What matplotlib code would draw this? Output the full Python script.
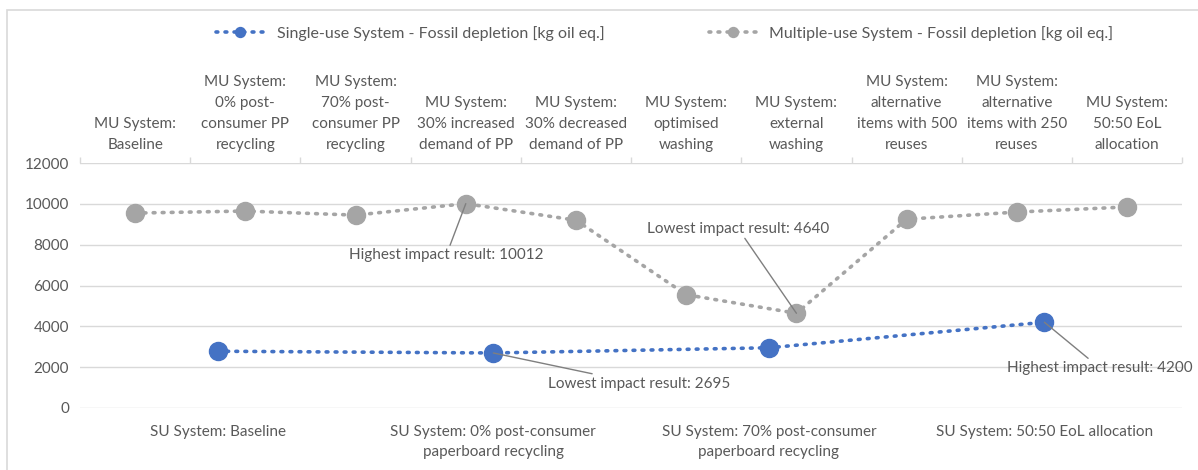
import matplotlib.pyplot as plt
from matplotlib.patches import Rectangle

plt.rcParams['font.family'] = ['Lato', 'DejaVu Sans']

# single-use system (bottom axis)
su_labels = ["SU System: Baseline",
             "SU System: 0% post-consumer\npaperboard recycling",
             "SU System: 70% post-consumer\npaperboard recycling",
             "SU System: 50:50 EoL allocation"]
su_vals = [2780, 2695, 2950, 4200]

# multiple-use system (top axis)
mu_labels = ["MU System:\nBaseline",
             "MU System:\n0% post-\nconsumer PP\nrecycling",
             "MU System:\n70% post-\nconsumer PP\nrecycling",
             "MU System:\n30% increased\ndemand of PP",
             "MU System:\n30% decreased\ndemand of PP",
             "MU System:\noptimised\nwashing",
             "MU System:\nexternal\nwashing",
             "MU System:\nalternative\nitems with 500\nreuses",
             "MU System:\nalternative\nitems with 250\nreuses",
             "MU System:\n50:50 EoL\nallocation"]
mu_vals = [9550, 9650, 9450, 10012, 9200, 5550, 4640, 9250, 9600, 9850]

blue = "#4472C4"
grey = "#A5A5A5"
txt = "#595959"
gridc = "#D9D9D9"

fig = plt.figure(figsize=(11.98, 4.70), dpi=100)
ax = fig.add_axes([0.0668, 0.132, 0.92, 0.521])
ax2 = ax.twiny()

ax.set_ylim(0, 12000)
ax.set_yticks(range(0, 12001, 2000))
ax.grid(axis='y', color=gridc, lw=1)
ax.set_axisbelow(True)
for a in (ax, ax2):
    for s in a.spines.values():
        s.set_visible(False)

ax.set_xlim(-0.5, len(su_vals) - 0.5)
ax.set_xticks(range(len(su_vals)))
ax.set_xticklabels(su_labels, color=txt, fontsize=11, linespacing=1.6)
ax.tick_params(axis='x', length=0, pad=12)
ax.tick_params(axis='y', length=0, labelcolor=txt, labelsize=11, pad=8)

ax2.set_xlim(-0.5, len(mu_vals) - 0.5)
ax2.set_xticks(range(len(mu_vals)))
ax2.set_xticklabels(mu_labels, color=txt, fontsize=11, linespacing=1.65)
ax2.set_xticks([i - 0.5 for i in range(len(mu_vals) + 1)], minor=True)
ax2.tick_params(axis='x', which='major', length=0, pad=8)
ax2.tick_params(axis='x', which='minor', length=4, color=gridc, width=1)

su_line, = ax.plot(range(len(su_vals)), su_vals, color=blue, lw=2.6,
                   ls=(0, (0.5, 2.0)), dash_capstyle='round', marker='o',
                   ms=13, label="Single-use System - Fossil depletion [kg oil eq.]", zorder=3)
mu_line, = ax2.plot(range(len(mu_vals)), mu_vals, color=grey, lw=2.6,
                    ls=(0, (0.5, 2.0)), dash_capstyle='round', marker='o',
                    ms=13, label="Multiple-use System - Fossil depletion [kg oil eq.]", zorder=3)

arr = dict(arrowstyle='-', color='#7F7F7F', lw=1, shrinkA=0, shrinkB=0)
ax2.annotate("Highest impact result: 10012", xy=(3, 10012), xytext=(-14, -37),
             textcoords='offset points', ha='center', va='center', color=txt,
             fontsize=11, arrowprops=arr)
ax2.annotate("Lowest impact result: 4640", xy=(6, 4640), xytext=(-42, 61),
             textcoords='offset points', ha='center', va='center', color=txt,
             fontsize=11, arrowprops=arr)
ax.annotate("Lowest impact result: 2695", xy=(1, 2695), xytext=(39, -22),
            textcoords='offset points', ha='left', va='center', color=txt,
            fontsize=11, arrowprops=arr)
ax.annotate("Highest impact result: 4200", xy=(3, 4200), xytext=(40, -33),
            textcoords='offset points', ha='center', va='center', color=txt,
            fontsize=11, arrowprops=arr)

fig.legend(handles=[su_line, mu_line], loc='upper center', bbox_to_anchor=(0.555, 0.975),
           ncol=2, frameon=False, fontsize=11.5, labelcolor=txt, columnspacing=6.5,
           handlelength=3.0, markerscale=0.55)

fig.patches.append(Rectangle((0.006, -0.1), 1.2, 1.078, transform=fig.transFigure,
                             fill=False, edgecolor=gridc, lw=1.2))

fig.savefig("out.png", dpi=100)
